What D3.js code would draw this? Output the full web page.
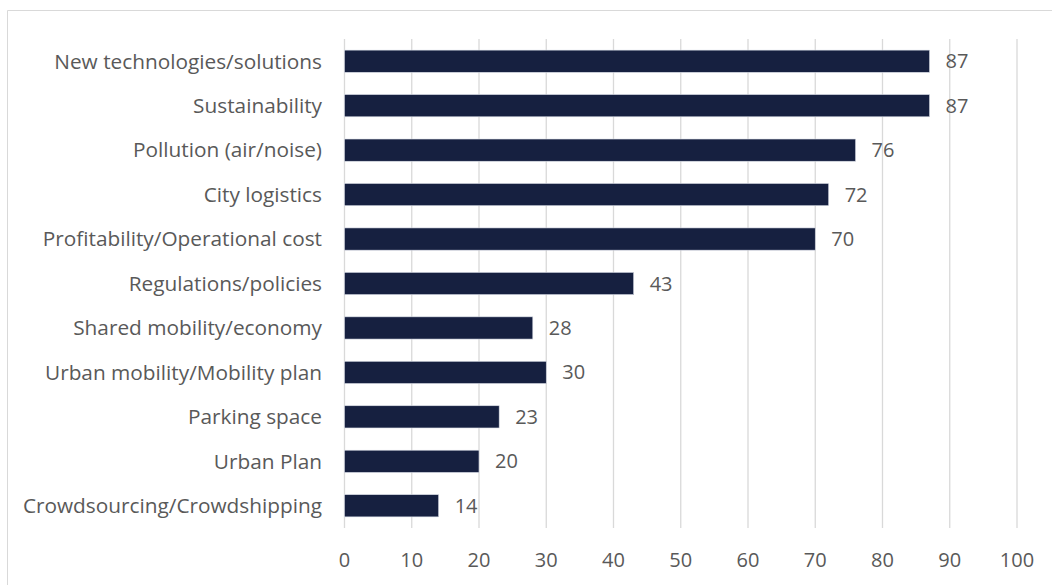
<!DOCTYPE html>
<html>
<head>
<meta charset="utf-8">
<script src="https://cdn.jsdelivr.net/npm/d3@7"></script>
<style>
  body { margin: 0; background: #fff; }
  svg text { font-family: "Open Sans", Lato, sans-serif; fill: #595959; }
</style>
</head>
<body>
<div id="chart"></div>
<script>
// values
var categories = [
  "New technologies/solutions",
  "Sustainability",
  "Pollution (air/noise)",
  "City logistics",
  "Profitability/Operational cost",
  "Regulations/policies",
  "Shared mobility/economy",
  "Urban mobility/Mobility plan",
  "Parking space",
  "Urban Plan",
  "Crowdsourcing/Crowdshipping"
];
var counts = [87, 87, 76, 72, 70, 43, 28, 30, 23, 20, 14];
var xTicks = [0, 10, 20, 30, 40, 50, 60, 70, 80, 90, 100];

var W = 1052, H = 585;
var m = { left: 344.5, right: 35, top: 39, bottom: 57 };

var svg = d3.select("#chart").append("svg")
  .attr("width", W)
  .attr("height", H);

// chart border: only top and left edges show in the crop
svg.append("path")
  .attr("d", "M7.5," + H + "V10.5H" + W)
  .attr("fill", "none")
  .attr("stroke", "#d9d9d9");

var x = d3.scaleLinear().domain([0, 100]).range([m.left, W - m.right]);
var y = d3.scaleBand().domain(categories).range([m.top, H - m.bottom])
  .paddingInner(0.5).paddingOuter(0.25);

// vertical gridlines
svg.append("g").selectAll("line")
  .data(xTicks)
  .join("line")
  .attr("x1", d => x(d)).attr("x2", d => x(d))
  .attr("y1", m.top).attr("y2", H - m.bottom)
  .attr("stroke", "#d9d9d9")
  .attr("stroke-width", 1.3);

// tick labels
svg.append("g").selectAll("text")
  .data(xTicks)
  .join("text")
  .attr("x", d => x(d))
  .attr("y", 560)
  .attr("dy", "0.35em")
  .attr("text-anchor", "middle")
  .attr("font-size", 20)
  .text(d => d);

// bars
svg.append("g").selectAll("rect")
  .data(counts)
  .join("rect")
  .attr("x", x(0))
  .attr("y", (d, i) => y(categories[i]))
  .attr("width", d => x(d) - x(0))
  .attr("height", y.bandwidth())
  .attr("fill", "#162040")
  .attr("stroke", "#d9dde6")
  .attr("stroke-width", 0.6);

// value labels
svg.append("g").selectAll("text")
  .data(counts)
  .join("text")
  .attr("x", d => x(d) + 16)
  .attr("y", (d, i) => y(categories[i]) + y.bandwidth() / 2)
  .attr("dy", "0.35em")
  .attr("font-size", 20)
  .text(d => d);

// category labels
svg.append("g").selectAll("text")
  .data(categories)
  .join("text")
  .attr("x", 322)
  .attr("y", d => y(d) + y.bandwidth() / 2)
  .attr("dy", "0.35em")
  .attr("text-anchor", "end")
  .attr("font-size", 20.8)
  .text(d => d);
</script>
</body>
</html>
